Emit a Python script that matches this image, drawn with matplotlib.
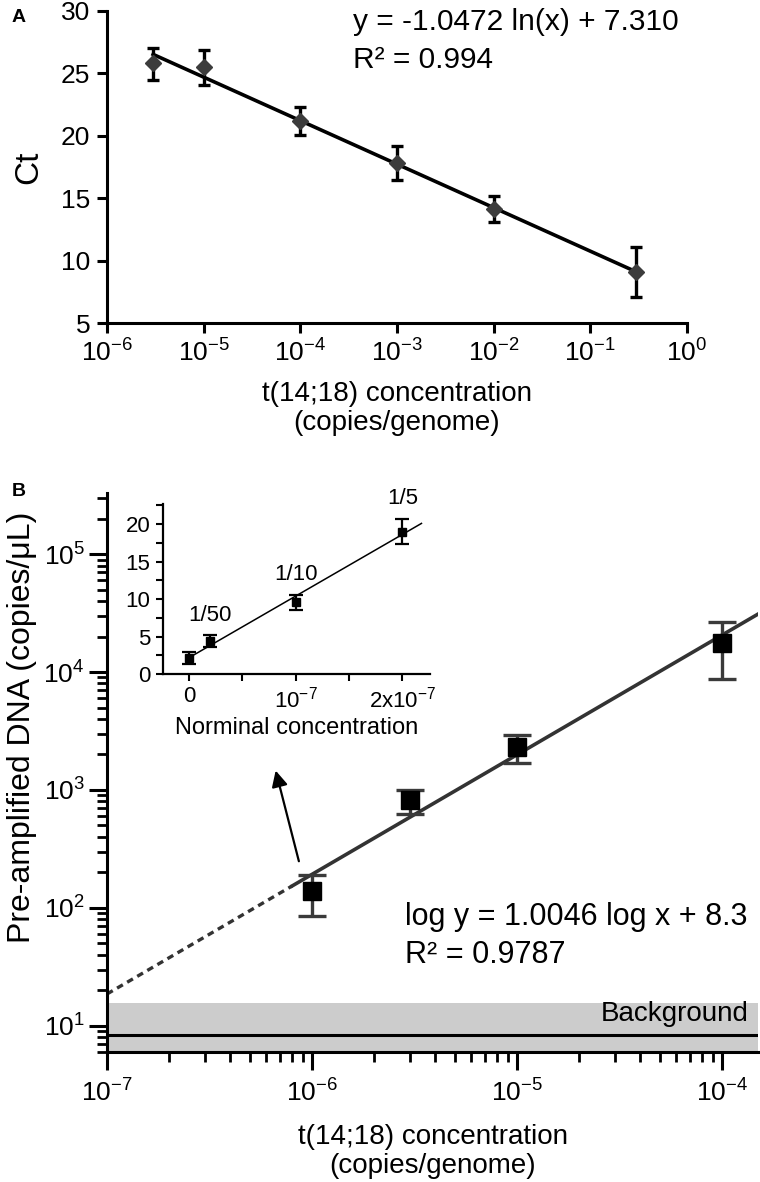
"""Two-panel figure: Ct standard curve (A) and pre-amplified DNA vs concentration (B)"""

import matplotlib

matplotlib.use("Agg")

import matplotlib.pyplot as plt
import numpy as np
from matplotlib.ticker import FixedLocator, LogLocator, MultipleLocator, NullFormatter, NullLocator

# ---- data ----
# panel A
a_conc = [3e-6, 1e-5, 1e-4, 1e-3, 1e-2, 0.3]
a_ct = [25.8, 25.5, 21.2, 17.85, 14.1, 9.05]
a_err_lo = [1.3, 1.4, 1.15, 1.4, 1.0, 2.0]
a_err_hi = [1.2, 1.35, 1.1, 1.35, 1.05, 2.0]
a_eq = "y = -1.0472 ln(x) + 7.310"
a_r2 = "R² = 0.994"

# panel B
b_conc = [1e-6, 3e-6, 1e-5, 1e-4]
b_dna = [138, 823, 2310, 17600]
b_upper = [190, 1000, 2930, 26600]
b_lower = [86, 628, 1690, 8700]
b_background = 8.4
b_background_band = 15.7
b_eq = "log y = 1.0046 log x + 8.3"
b_r2 = "R² = 0.9787"

# inset of B
in_conc = [0.0, 0.2e-7, 1e-7, 2e-7]
in_dna = [2.1, 4.4, 9.55, 19.0]
in_err = [0.8, 0.75, 1.05, 1.7]
in_labels = ["", "1/50", "1/10", "1/5"]

plt.rcParams["font.family"] = ["Liberation Sans", "DejaVu Sans"]
plt.rcParams["mathtext.fontset"] = "custom"
plt.rcParams["mathtext.rm"] = "Liberation Sans"
plt.rcParams["mathtext.it"] = "Liberation Sans:italic"
plt.rcParams["mathtext.bf"] = "Liberation Sans:bold"
plt.rcParams["axes.linewidth"] = 2.2

fig = plt.figure(figsize=(7.6, 11.82), dpi=100)

W, H = 760.0, 1182.0


def px_axes(left, top, right, bottom):
    return fig.add_axes([left / W, 1 - bottom / H, (right - left) / W, (bottom - top) / H])


def log_label(v):
    return r"$\mathregular{10^{%d}}$" % int(round(np.log10(v)))


# ---------------- panel A ----------------
ax = px_axes(107, 11, 687, 323)
ax.set_xscale("log")
ax.set_xlim(1e-6, 1)
ax.set_ylim(5, 30)
for s in ["top", "right"]:
    ax.spines[s].set_visible(False)

fit_a = np.polyfit(np.log10(a_conc), a_ct, 1)
xs = np.logspace(np.log10(a_conc[0]), np.log10(a_conc[-1]), 50)
ax.plot(xs, np.polyval(fit_a, np.log10(xs)), color="black", lw=2.6, zorder=2)
ax.errorbar(a_conc, a_ct, yerr=[a_err_lo, a_err_hi], fmt="D", color="#3c3c3c",
            ms=8.5, ecolor="black", elinewidth=2.4, capsize=4, capthick=2.4, zorder=3)

decades = [1e-6, 1e-5, 1e-4, 1e-3, 1e-2, 1e-1, 1]
ax.xaxis.set_major_locator(FixedLocator(decades))
ax.set_xticklabels([log_label(v) for v in decades])
ax.xaxis.set_minor_locator(NullLocator())
ax.set_yticks([5, 10, 15, 20, 25, 30])
ax.tick_params(direction="out", length=7, width=2.2, labelsize=19, pad=5)

ax.set_xlabel("t(14;18) concentration\n(copies/genome)", fontsize=20,
              linespacing=1.15, labelpad=10)
ax.set_ylabel("Ct", fontsize=24, labelpad=12)
ax.text(353 / W, 1 - 22 / H, a_eq, transform=fig.transFigure, fontsize=21.5, va="center", ha="left")
ax.text(353 / W, 1 - 60 / H, a_r2, transform=fig.transFigure, fontsize=21.5, va="center", ha="left")
fig.text(12 / W, 1 - 18 / H, "A", fontsize=14, weight="bold", va="center")

# ---------------- panel B ----------------
bx = px_axes(107, 493, 758, 1052)
bx.set_xscale("log")
bx.set_yscale("log")
bx.set_xlim(1e-7, 1.5e-4)
bx.set_ylim(6.0, 3.3e5)
for s in ["top", "right"]:
    bx.spines[s].set_visible(False)

bx.axhspan(6.0, b_background_band, color="#cccccc", lw=0, zorder=0)
bx.axhline(b_background, color="black", lw=2.2, zorder=1)
bx.text(0.985, np.sqrt(b_background * b_background_band) * 1.1, "Background",
        transform=bx.get_yaxis_transform(), ha="right", va="center", fontsize=20)

fit_b = np.polyfit(np.log10(b_conc), np.log10(b_dna), 1)
x_dash = np.logspace(-7, np.log10(8e-7), 20)
x_solid = np.logspace(np.log10(8e-7), np.log10(1.5e-4), 50)
bx.plot(x_dash, 10 ** np.polyval(fit_b, np.log10(x_dash)), color="#333333", lw=2.4, ls=(0, (2, 1.5)))
bx.plot(x_solid, 10 ** np.polyval(fit_b, np.log10(x_solid)), color="#333333", lw=2.6)

b_dna_arr = np.array(b_dna)
bx.errorbar(b_conc, b_dna, yerr=[b_dna_arr - np.array(b_lower), np.array(b_upper) - b_dna_arr],
            fmt="s", color="black", ms=13, ecolor="#3a3a3a", elinewidth=2.4,
            capsize=10, capthick=2.4, zorder=3)

bx.xaxis.set_major_locator(FixedLocator([1e-7, 1e-6, 1e-5, 1e-4]))
bx.set_xticklabels([log_label(v) for v in [1e-7, 1e-6, 1e-5, 1e-4]])
bx.xaxis.set_minor_locator(LogLocator(base=10, subs=np.arange(2, 10)))
bx.xaxis.set_minor_formatter(NullFormatter())
bx.yaxis.set_major_locator(FixedLocator([10, 100, 1e3, 1e4, 1e5]))
bx.set_yticklabels([log_label(v) for v in [10, 100, 1e3, 1e4, 1e5]])
bx.yaxis.set_minor_locator(LogLocator(base=10, subs=np.arange(2, 10)))
bx.yaxis.set_minor_formatter(NullFormatter())
bx.tick_params(which="major", direction="out", length=13, width=2.2, labelsize=19, pad=3)
bx.tick_params(axis="x", which="major", pad=7)
bx.tick_params(which="minor", direction="out", length=7, width=2.0)

bx.set_xlabel("t(14;18) concentration\n(copies/genome)", fontsize=20,
              linespacing=1.15, labelpad=12)
bx.set_ylabel("Pre-amplified DNA (copies/μL)", fontsize=23)
bx.yaxis.set_label_coords(-0.107, 0.58)
bx.text(405 / W, 1 - 917 / H, b_eq, transform=fig.transFigure, fontsize=22, va="center")
bx.text(405 / W, 1 - 955 / H, b_r2, transform=fig.transFigure, fontsize=22, va="center")
fig.text(12 / W, 1 - 492 / H, "B", fontsize=14, weight="bold", va="center")

bx.annotate("", xy=(6.6e-7, 1540), xytext=(8.7e-7, 236),
            arrowprops=dict(arrowstyle="-|>", color="black", lw=1.6, mutation_scale=24))

# ---------------- inset ----------------
ix = px_axes(163, 504, 430, 674)
ix.set_xlim(-0.245e-7, 2.26e-7)
ix.set_ylim(0, 22.7)
for s in ["top", "right"]:
    ix.spines[s].set_visible(False)
ix.spines["left"].set_linewidth(1.6)
ix.spines["bottom"].set_linewidth(1.6)

fit_in = np.polyfit(in_conc, in_dna, 1)
xi = np.linspace(0, 2.18e-7, 20)
ix.plot(xi, np.polyval(fit_in, xi), color="black", lw=1.1)
ix.errorbar(in_conc, in_dna, yerr=in_err, fmt="s", color="black", ms=6,
            ecolor="black", elinewidth=1.6, capsize=5, capthick=1.6)
for xv, yv, e, lab in zip(in_conc, in_dna, in_err, in_labels):
    if lab:
        ix.text(xv, yv + e + 1.3, lab, ha="center", va="bottom", fontsize=16)

ix.set_xticks([0, 1e-7, 2e-7])
ix.set_xticklabels(["0", r"$\mathregular{10^{-7}}$", r"$\mathregular{2x10^{-7}}$"])
ix.xaxis.set_minor_locator(MultipleLocator(0.5e-7))
ix.set_yticks([0, 5, 10, 15, 20])
ix.yaxis.set_minor_locator(MultipleLocator(2.5))
ix.tick_params(which="major", direction="out", length=5, width=1.5, labelsize=16, pad=4)
ix.tick_params(which="minor", direction="out", length=5, width=1.5)
ix.set_xlabel("Norminal concentration", fontsize=17, labelpad=3)

fig.savefig("out.png", dpi=100)
